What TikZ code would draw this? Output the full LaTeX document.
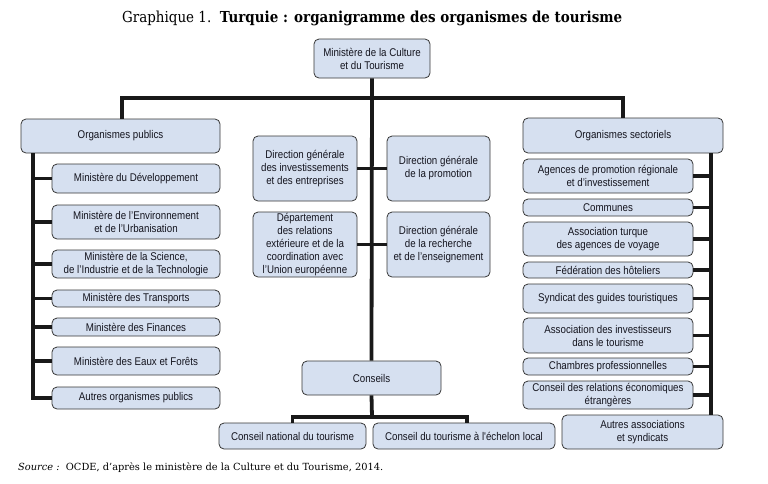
\documentclass[tikz,border=0pt]{standalone}
\usepackage{fontspec}
\usepackage{graphicx}
\newfontfamily\narrow[FakeStretch=0.87]{Liberation Sans}
\newfontfamily\titlefont{DejaVu Serif}
\definecolor{boxfill}{RGB}{214,224,240}
\definecolor{boxline}{RGB}{55,55,55}
\definecolor{txt}{RGB}{20,20,30}
\tikzset{
  box/.style={draw=boxline, fill=boxfill, line width=0.8pt, rounded corners=5pt,
    inner sep=0pt, align=center, text=txt,
    font=\narrow\fontsize{11.2}{13}\selectfont},
  conn/.style={line width=3.8pt, draw=black!90}
}
\begin{document}
\begin{tikzpicture}[x=1pt,y=-1pt]
\useasboundingbox (0,0) rectangle (768,483);
% title and source
\node[anchor=west, inner sep=0pt] (title) at (122,18) {\resizebox{500pt}{11.5pt}{\titlefont Graphique 1.\ \ \textbf{Turquie : organigramme des organismes de tourisme}}};
\node[anchor=west, inner sep=0pt] (source) at (18,468) {\resizebox{365pt}{!}{\titlefont\itshape Source :\upshape\ \ OCDE, d’après le ministère de la Culture et du Tourisme, 2014.}};
% top
\node[box, minimum width=116pt, minimum height=39pt] (top) at (372,58.5) {Ministère de la Culture\\et du Tourisme};
% left column
\node[box, minimum width=199pt, minimum height=34pt] (pub) at (120.5,136) {Organismes publics};
\node[box, minimum width=168pt, minimum height=29pt] (dev) at (136,178.5) {Ministère du Développement};
\node[box, minimum width=168pt, minimum height=34pt] (env) at (136,222) {Ministère de l’Environnement\\et de l’Urbanisation};
\node[box, minimum width=168pt, minimum height=28pt] (sci) at (136,264) {Ministère de la Science,\\de l’Industrie et de la Technologie};
\node[box, minimum width=168pt, minimum height=17pt] (tra) at (136,298.5) {Ministère des Transports};
\node[box, minimum width=168pt, minimum height=18pt] (fin) at (136,327) {Ministère des Finances};
\node[box, minimum width=168pt, minimum height=28pt] (eau) at (136,361) {Ministère des Eaux et Forêts};
\node[box, minimum width=168pt, minimum height=22pt] (aop) at (136,398) {Autres organismes publics};
% middle
\node[box, minimum width=104pt, minimum height=65pt] (dgi) at (305,168.5) {Direction générale\\des investissements\\et des entreprises};
\node[box, minimum width=103pt, minimum height=65pt] (dgp) at (438.5,168.5) {Direction générale\\de la promotion};
\node[box, minimum width=104pt, minimum height=65pt] (dep) at (305,244.5) {Département\\des relations\\extérieure et de la\\coordination avec\\l’Union européenne};
\node[box, minimum width=103pt, minimum height=65pt] (dgr) at (438.5,244.5) {Direction générale\\de la recherche\\et de l’enseignement};
\node[box, minimum width=139pt, minimum height=34pt] (cons) at (371.5,378) {Conseils};
\node[box, minimum width=147pt, minimum height=26pt] (cn) at (292.5,436) {Conseil national du tourisme};
\node[box, minimum width=182pt, minimum height=26pt] (cl) at (464,436) {Conseil du tourisme à l'échelon local};
% right column
\node[box, minimum width=200pt, minimum height=35pt] (sect) at (623,135.5) {Organismes sectoriels};
\node[box, minimum width=170pt, minimum height=34pt] (age) at (608,176) {Agences de promotion régionale\\et d’investissement};
\node[box, minimum width=170pt, minimum height=17pt] (com) at (608,207.5) {Communes};
\node[box, minimum width=170pt, minimum height=34pt] (atv) at (608,239) {Association turque\\des agences de voyage};
\node[box, minimum width=170pt, minimum height=16pt] (fed) at (608,270) {Fédération des hôteliers};
\node[box, minimum width=170pt, minimum height=29pt] (syn) at (608,298.5) {Syndicat des guides touristiques};
\node[box, minimum width=170pt, minimum height=35pt] (inv) at (608,335.5) {Association des investisseurs\\dans le tourisme};
\node[box, minimum width=170pt, minimum height=17pt] (cha) at (608,366.5) {Chambres professionnelles};
\node[box, minimum width=170pt, minimum height=28pt] (rel) at (608,395) {Conseil des relations économiques\\étrangères};
\node[box, minimum width=161pt, minimum height=34pt] (aas) at (642.5,432) {Autres associations\\et syndicats};
% coordinates
\coordinate (barL) at (122,98);
\coordinate (barR) at (623,98);
\coordinate (lsp) at (33,153);
\coordinate (rsp) at (711,153);
\coordinate (cbar) at (372,417);
% connectors
\draw[conn] (top.south) -- (cons.north);
\draw[conn] (barL |- pub.north) -- (barL) -- (barR) -- (barR |- sect.north);
\draw[conn] (lsp) |- (aop.west);
\foreach \n in {dev,env,sci,tra,fin,eau} \draw[conn] (lsp |- \n.west) -- (\n.west);
\draw[conn] (rsp) -- (rsp |- aas.north);
\foreach \n in {age,com,atv,fed,syn,inv,cha,rel} \draw[conn] (rsp |- \n.east) -- (\n.east);
\draw[conn] (dgi.east) -- (dgp.west);
\draw[conn] (dep.east) -- (dgr.west);
\draw[conn] (cons.south) -- (cbar);
\draw[conn] (cn.north) |- (cbar) -| (cl.north -| 467,0);
\end{tikzpicture}
\end{document}
